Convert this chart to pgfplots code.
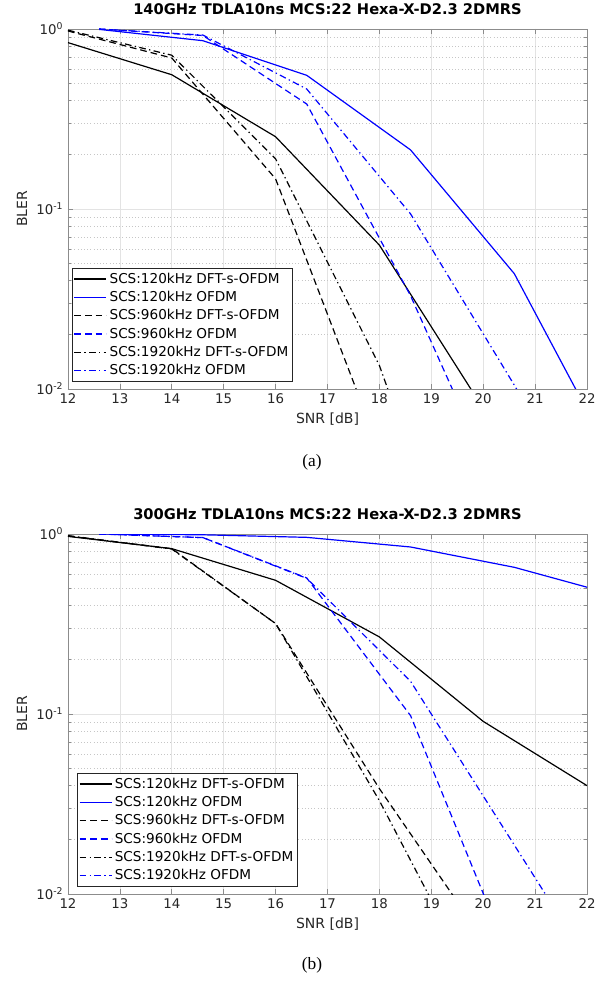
\documentclass[border=0pt]{standalone}
\usepackage{fontspec}
\setmainfont{DejaVu Sans}
\newfontfamily\capfont{Liberation Serif}
\usepackage{pgfplots}
\pgfplotsset{compat=1.18}

\definecolor{axgray}{RGB}{140,140,140}
\definecolor{txt}{RGB}{38,38,38}

\tikzset{
  kk/.style={draw=black, line width=0.9pt},
  bb/.style={draw=blue, line width=0.9pt},
  ds/.style={dash pattern=on 5pt off 3pt},
  dd/.style={dash pattern=on 5pt off 2.5pt on 1pt off 2.5pt},
}
\pgfplotsset{
  every axis/.append style={
    scale only axis, width=389.25pt, height=270pt,
    xmin=12, xmax=22, ymin=0.01, ymax=1,
    xtick={12,...,22},
    ytick={0.01,0.1,1},
    yticklabels={10\textsuperscript{-2},10\textsuperscript{-1},10\textsuperscript{0}},
    xmajorgrids, ymajorgrids, yminorgrids,
    major grid style={gray!22, line width=0.5pt},
    minor grid style={gray!45, dotted, line width=0.5pt},
    axis line style={axgray, line width=0.6pt},
    tick style={axgray, line width=0.5pt},
    major tick length=4pt, minor tick length=2.5pt,
    tick align=inside,
    tick label style={font=\fontsize{10}{12}\selectfont, color=txt},
    xlabel style={font=\fontsize{10.5}{12}\selectfont, color=txt},
    ylabel style={font=\fontsize{10.5}{12}\selectfont, color=txt},
    title style={font=\bfseries\fontsize{11}{13}\selectfont, color=black, yshift=1pt},
    legend cell align=left,
    legend style={anchor=south west, draw=txt,
      font=\fontsize{10.2}{13}\selectfont,
      inner xsep=1pt, inner ysep=1.5pt, row sep=0.5pt},
  },
}

\begin{document}
\begin{tikzpicture}[x=1pt,y=1pt]
\path[use as bounding box] (0,0) rectangle (454.5,736.5);

% (a) 140 GHz
\begin{semilogyaxis}[at={(51pt,444.75pt)}, anchor=south west,
  /pgf/number format/assume math mode=true,
  legend image code/.code={\draw[#1] (0pt,0pt) -- (24pt,0pt);},
  legend style={at={(0.008,0.02)}},
  xlabel={SNR [dB]}, ylabel={BLER},
  title={140GHz TDLA10ns MCS:22 Hexa-X-D2.3 2DMRS}]
\addplot[kk] coordinates {(12,0.84) (14,0.557) (16,0.252) (18,0.063) (20,0.0078)};
\addplot[bb] coordinates {(12.6,0.995) (14.6,0.861) (16.6,0.553) (18.6,0.213) (20.6,0.0437) (22.6,0.0036)};
\addplot[kk, ds] coordinates {(12,0.975) (14,0.69) (16,0.147) (18,0.0046)};
\addplot[bb, ds] coordinates {(12.6,1.0) (14.6,0.92) (16.6,0.383) (18.6,0.033) (20.6,0.0017)};
\addplot[kk, dd] coordinates {(12,0.985) (14,0.715) (16,0.19) (18,0.0135) (19,0.0021)};
\addplot[bb, dd] coordinates {(12.6,1.0) (14.6,0.925) (16.6,0.464) (18.6,0.094) (20.6,0.0105) (22.6,0.0011)};
\legend{SCS:120kHz DFT-s-OFDM, SCS:120kHz OFDM, SCS:960kHz DFT-s-OFDM,
  SCS:960kHz OFDM, SCS:1920kHz DFT-s-OFDM, SCS:1920kHz OFDM}
\end{semilogyaxis}
\node[font=\capfont\fontsize{13}{15}\selectfont] at (234,390) {(a)};

% (b) 300 GHz
\begin{semilogyaxis}[at={(51pt,66pt)}, anchor=south west,
  /pgf/number format/assume math mode=true,
  legend image code/.code={\draw[#1] (0pt,0pt) -- (24pt,0pt);},
  legend style={at={(0.018,0.02)}},
  xlabel={SNR [dB]}, ylabel={BLER},
  title={300GHz TDLA10ns MCS:22 Hexa-X-D2.3 2DMRS}]
\addplot[kk] coordinates {(12,0.97) (14,0.829) (16,0.553) (18,0.268) (20,0.091) (22,0.040)};
\addplot[bb] coordinates {(12.6,1.0) (14.6,0.99) (16.6,0.958) (18.6,0.847) (20.6,0.653) (22.6,0.454)};
\addplot[kk, ds] coordinates {(12,0.975) (14,0.829) (16,0.318) (18,0.0385) (20,0.0056)};
\addplot[bb, ds] coordinates {(12.6,1.0) (14.6,0.955) (16.6,0.57) (18.6,0.098) (20.6,0.0038)};
\addplot[kk, dd] coordinates {(12,0.98) (14,0.825) (16,0.318) (18,0.033) (20,0.0026)};
\addplot[bb, dd] coordinates {(12.6,1.0) (14.6,0.955) (16.6,0.567) (18.6,0.152) (20.6,0.0187) (22.6,0.0023)};
\legend{SCS:120kHz DFT-s-OFDM, SCS:120kHz OFDM, SCS:960kHz DFT-s-OFDM,
  SCS:960kHz OFDM, SCS:1920kHz DFT-s-OFDM, SCS:1920kHz OFDM}
\end{semilogyaxis}
\node[font=\capfont\fontsize{13}{15}\selectfont] at (234,12.75) {(b)};
\end{tikzpicture}
\end{document}
